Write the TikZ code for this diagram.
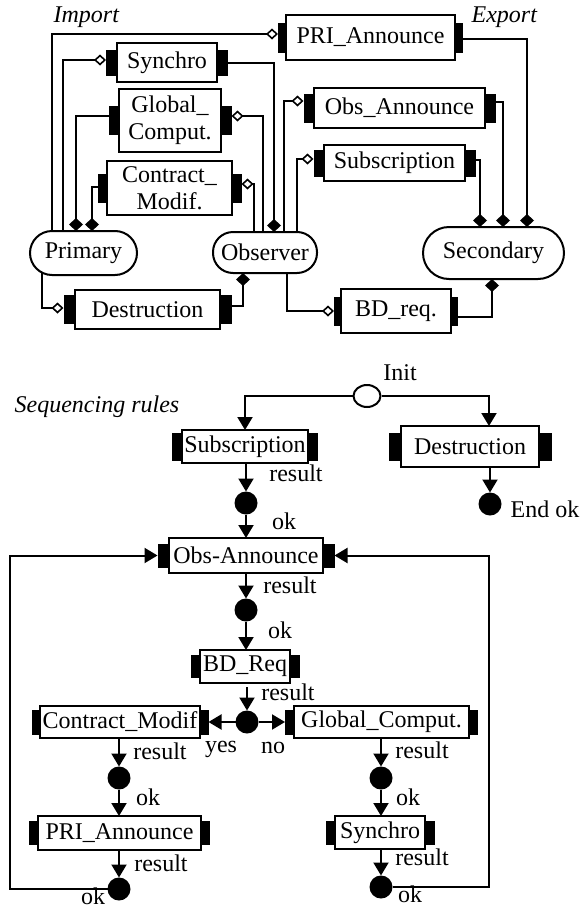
\documentclass[tikz,border=0pt]{standalone}
\usepackage{fontspec}
\setmainfont{Liberation Serif}
\usetikzlibrary{arrows.meta,shapes.geometric}
\tikzset{
  modbox/.style={draw, line width=2pt, fill=white, inner sep=0pt, outer sep=0pt, align=center},
  port/.style={fill=black, inner sep=0pt, outer sep=0pt, draw=none},
  stad/.style={draw, line width=2pt, inner sep=0pt, outer sep=0pt},
  dot/.style={circle, fill=black, inner sep=0pt, outer sep=0pt, minimum size=23pt},
  conn/.style={line width=2pt},
  arr/.style={conn, -{Triangle[length=13pt,width=15pt]}},
  odm/.style={conn, -{Diamond[open,length=12pt,width=11pt,line width=1.6pt]}},
  bdm/.style={conn, -{Diamond[length=13pt,width=14pt]}},
  lbl/.style={inner sep=0pt, outer sep=0pt}
}
% #1 name #2 cx #3 cy #4 w #5 h #6 port w #7 port h #8 text
\newcommand{\modul}[8]{%
  \node[modbox, minimum width=#4pt, minimum height=#5pt] (#1) at (#2,#3) {#8};
  \node[port, minimum width=#6pt, minimum height=#7pt, anchor=east] (#1L) at (#1.west) {};
  \node[port, minimum width=#6pt, minimum height=#7pt, anchor=west] (#1R) at (#1.east) {};
}
\begin{document}
\begin{tikzpicture}[x=1pt, y=-1pt, font=\fontsize{24}{27}\selectfont]
\useasboundingbox (0,0) rectangle (580,910);

% ---------- top part ----------
\node[lbl] (imp) at (86.5,17.5) {\textit{Import}};
\node[lbl] (exp) at (504.5,17.5) {\textit{Export}};

\modul{pri}{370.5}{37.5}{169}{45}{8}{30}{PRI\_Announce}
\modul{syn}{167}{62.5}{100}{39}{11}{26}{Synchro}
\modul{glo}{170}{120.5}{102}{63}{10.5}{29}{Global\_\\Comput.}
\modul{con}{169.5}{188}{125}{54}{9.5}{29}{Contract\_\\Modif.}
\modul{des}{147.5}{309.5}{145}{39}{11.5}{29}{Destruction}
\modul{oa}{399.5}{108}{171}{40}{10.5}{29}{Obs\_Announce}
\modul{su}{394.5}{163}{141}{36}{10.5}{27}{Subscription}
\modul{bd}{396}{311}{110}{44}{7}{29}{BD\_req.}

\node[stad, rounded corners=22pt, minimum width=107pt, minimum height=44pt] (prim) at (83.5,253) {Primary};
\node[stad, rounded corners=20pt, minimum width=104pt, minimum height=41pt] (obs) at (265,252.5) {Observer};
\node[stad, rounded corners=26pt, minimum width=141pt, minimum height=52pt] (sec) at (493.5,253) {Secondary};

\coordinate (a1) at (52,34);
\coordinate (b1) at (63,60);
\coordinate (c1) at (76,116);
\coordinate (d1c) at (92,187);
\coordinate (e1) at (274,63);
\coordinate (f1) at (263,116);
\coordinate (g1) at (254,184);
\coordinate (h1) at (284,101);
\coordinate (i1) at (297,159);
\coordinate (j1) at (527,39);
\coordinate (k1) at (503,102);
\coordinate (l1) at (480,160);
\coordinate (m1) at (42,308);
\coordinate (n1) at (243,306);
\coordinate (o1) at (287,311);
\coordinate (p1) at (492,317);

\draw[odm] (prim.north -| a1) |- (priL.west |- a1);
\draw[odm] (prim.north -| b1) |- (synL.west |- b1);
\draw[bdm] (gloL.west |- c1) -| (prim.north -| c1);
\draw[bdm] (conL.west |- d1c) -| (prim.north -| d1c);
\draw[bdm] (synR.east |- e1) -| (obs.north -| e1);
\draw[odm] (obs.north -| f1) |- (gloR.east |- f1);
\draw[odm] (obs.north -| g1) |- (conR.east |- g1);
\draw[odm] (obs.north -| h1) |- (oaL.west |- h1);
\draw[odm] (obs.north -| i1) |- (suL.west |- i1);
\draw[bdm] (priR.east |- j1) -| (sec.north -| j1);
\draw[bdm] (oaR.east |- k1) -| (sec.north -| k1);
\draw[bdm] (suR.east |- l1) -| (sec.north -| l1);
\draw[odm, shorten <=-3pt] (prim.south -| m1) |- (desL.west |- m1);
\draw[bdm] (desR.east |- n1) -| (obs.south -| n1);
\draw[odm] (obs.south -| o1) |- (bdL.west |- o1);
\draw[bdm] (bdR.east |- p1) -| (sec.south -| p1);

% ---------- bottom part ----------
\node[lbl] (seq) at (97,407) {\textit{Sequencing rules}};
\node[ellipse, draw, line width=2pt, inner sep=0pt, minimum width=27pt, minimum height=22pt] (init) at (367,396) {};
\node[lbl] (initl) at (400,373) {Init};

\modul{subB}{245}{446.5}{126}{33}{10}{28}{Subscription}
\modul{desB}{470}{446.5}{138}{41}{12.5}{28}{Destruction}
\modul{oaB}{246}{555.5}{154}{35}{11.5}{24}{Obs-Announce}
\modul{bdB}{245}{666.5}{90}{33}{9.5}{23}{BD\_Req}
\modul{cmB}{120}{722}{160}{32}{8.5}{25}{Contract\_Modif}
\modul{gcB}{381.5}{722}{175}{32}{9}{25}{Global\_Comput.}
\modul{paB}{119.5}{833}{163}{34}{9}{24}{PRI\_Announce}
\modul{syB}{380}{832.5}{90}{33}{9.5}{24}{Synchro}

\node[dot] (q1) at (246,503) {};
\node[dot] (q2) at (246,610) {};
\node[dot] (q3) at (247,722) {};
\node[dot] (q4) at (119,778) {};
\node[dot] (q5) at (119,889) {};
\node[dot] (q6) at (381,778) {};
\node[dot] (q7) at (381,887) {};
\node[dot] (qe) at (490,504) {};

\coordinate (ri) at (489,0);
\coordinate (L1) at (10,0);
\coordinate (R1) at (489,0);

\draw[arr] (init.west) -| (subB.north);
\draw[arr] (init.east) -| (desB.north -| ri);
\draw[arr] (subB.south -| q1) -- (q1);
\draw[arr] (q1) -- (oaB.north -| q1);
\draw[arr] (oaB.south -| q2) -- (q2);
\draw[arr] (q2) -- (bdB.north -| q2);
\draw[arr, shorten <=4pt] (bdB.south -| q3) -- (q3);
\draw[arr] (q3) -- (cmBR);
\draw[arr] (q3) -- (gcBL);
\draw[arr] (cmB.south -| q4) -- (q4);
\draw[arr] (q4) -- (paB.north -| q4);
\draw[arr] (paB.south -| q5) -- (q5);
\draw[arr] (gcB.south -| q6) -- (q6);
\draw[arr] (q6) -- (syB.north -| q6);
\draw[arr] (syB.south -| q7) -- (q7);
\draw[arr] (desB.south -| qe) -- (qe);
\draw[arr] (q5.west) -| (oaBL.west -| L1) -- (oaBL.west);
\draw[arr] (q7.east) -| (oaBR.east -| R1) -- (oaBR.east);

\node[lbl] at (296,473) {result};
\node[lbl] at (284,521) {ok};
\node[lbl] at (290,585) {result};
\node[lbl] at (280,630) {ok};
\node[lbl] at (288,692) {result};
\node[lbl] at (221,749) {yes};
\node[lbl] at (273,748) {no};
\node[lbl] at (160,751) {result};
\node[lbl] at (148,797) {ok};
\node[lbl] at (161,863) {result};
\node[lbl] at (93,896) {ok};
\node[lbl] at (422,750) {result};
\node[lbl] at (408,797) {ok};
\node[lbl] at (422,857) {result};
\node[lbl] at (410,894) {ok};
\node[lbl] at (545,509) {End ok};
\end{tikzpicture}
\end{document}
